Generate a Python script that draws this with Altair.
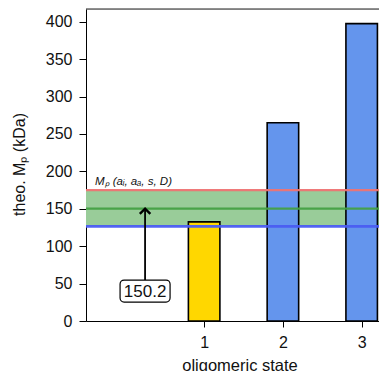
import altair as alt
import pandas as pd

# ---- data ----
states = [1, 2, 3]
masses = [132.5, 265.0, 397.5]
bar_colors = ["#FFD700", "#6495ED", "#6495ED"]
bar_half_width = 0.2
band_low = 126.5      # blue line
band_mid = 150.2      # green line
band_high = 175.0     # red line
y_ticks = [0, 50, 100, 150, 200, 250, 300, 350, 400]
x_ticks = [1, 2, 3]
note_x = 0.25
note_y = 40.0
note_label = "150.2"
band_label = "Mₚ (aᵢ, aₐ, s, D)"

W, H = 293, 312
FONT = "Liberation Sans"

xscale = alt.Scale(domain=[-0.5, 3.22], nice=False, zero=False)
yscale = alt.Scale(domain=[0, 417], nice=False, zero=False)

bars_df = pd.DataFrame({
    "state": states,
    "mass": masses,
    "color": bar_colors,
})
bars_df["x0"] = bars_df["state"] - bar_half_width
bars_df["x1"] = bars_df["state"] + bar_half_width
bars_df["base"] = 0.0

band_df = pd.DataFrame({"low": [band_low], "high": [band_high]})
lines_df = pd.DataFrame({
    "val": [band_high, band_mid, band_low],
    "col": ["#ee7373", "#45a045", "#4a5cf2"],
    "w": [2.2, 2.2, 2.8],
})
note_df = pd.DataFrame({"x": [note_x], "y": [note_y], "tip": [band_mid], "label": [note_label]})
label_df = pd.DataFrame({"x": [-0.5], "y": [band_high], "label": [band_label]})

x_axis = alt.Axis(
    values=x_ticks, format="d", grid=False, tickSize=6, labelPadding=7,
    labelFontSize=16, labelFont=FONT, labelColor="#111", domainColor="black",
    tickColor="black", title="oligomeric state", titleFont=FONT, titleFontSize=16.5,
    titleFontWeight="normal", titleColor="#111", titleX=W / 2 + 7, titleY=49,
    titleBaseline="alphabetic", titleAlign="center", labelFlush=False,
    labelOverlap=False,
)
y_axis = alt.Axis(
    values=y_ticks, grid=False, tickSize=7, labelPadding=7,
    labelFontSize=16, labelFont=FONT, labelColor="#111", domainColor="black",
    tickColor="black", title="theo. Mₚ (kDa)", titleFont=FONT, titleFontSize=16,
    titleFontWeight="normal", titleColor="#111", titleX=-67, titleY=H / 2 - 1,
    titleAngle=270, titleBaseline="middle", titleAlign="center", labelFlush=False,
    labelOverlap=False,
)


def X(field):
    return alt.X(field, scale=xscale, axis=x_axis, title="oligomeric state")


def Y(field):
    return alt.Y(field, scale=yscale, axis=y_axis, title="theo. Mₚ (kDa)")


band = alt.Chart(band_df).mark_rect(color="#99cc99", opacity=1).encode(
    x=alt.value(0), x2=alt.value(W),
    y=Y("low:Q"), y2="high:Q",
)

bars = alt.Chart(bars_df).mark_rect(stroke="black", strokeWidth=1.6, clip=True).encode(
    x=X("x0:Q"), x2="x1:Q",
    y=Y("mass:Q"), y2="base:Q",
    fill=alt.Fill("color:N", scale=None),
)

lines = alt.Chart(lines_df).mark_rule(opacity=0.95).encode(
    x=alt.value(0), x2=alt.value(W),
    y=Y("val:Q"),
    color=alt.Color("col:N", scale=None),
    strokeWidth=alt.StrokeWidth("w:Q", scale=None),
)

top_frame = alt.Chart(band_df).mark_rule(color="#222", strokeWidth=1.2).encode(
    x=alt.value(0), x2=alt.value(W), y=alt.value(0),
)

band_text = alt.Chart(label_df).mark_text(
    align="left", baseline="bottom", dx=9, dy=-3, fontSize=11.5, fontStyle="italic",
    font=FONT, color="#111",
).encode(x=X("x:Q"), y=Y("y:Q"), text="label:N")

arrow_shaft = alt.Chart(note_df).mark_rule(color="black", strokeWidth=1.8).encode(
    x=X("x:Q"), y=Y("y:Q"), y2="tip:Q",
)
arrow_head = alt.Chart(note_df).mark_point(
    shape="M-1,1L0,0L1,1", size=110, filled=False, stroke="black", strokeWidth=2.4, opacity=1,
).encode(x=X("x:Q"), y=Y("tip:Q"))

box = alt.Chart(note_df).mark_rect(
    width=50, height=22, cornerRadius=4, fill="white", stroke="black", strokeWidth=1.2,
).encode(x=X("x:Q"), y=Y("y:Q"))

box_text = alt.Chart(note_df).mark_text(
    fontSize=17, font=FONT, color="#111", baseline="middle", align="center", dy=1,
).encode(x=X("x:Q"), y=Y("y:Q"), text="label:N")

chart = alt.layer(
    band, bars, lines, top_frame, band_text, arrow_shaft, arrow_head, box, box_text
).properties(
    width=W, height=H, autosize="none",
    padding={"left": 86, "top": 9, "right": 0, "bottom": 50},
).configure_view(stroke=None).configure(background="white")

chart.save("out.html", embed_options={"renderer": "svg", "actions": False})
